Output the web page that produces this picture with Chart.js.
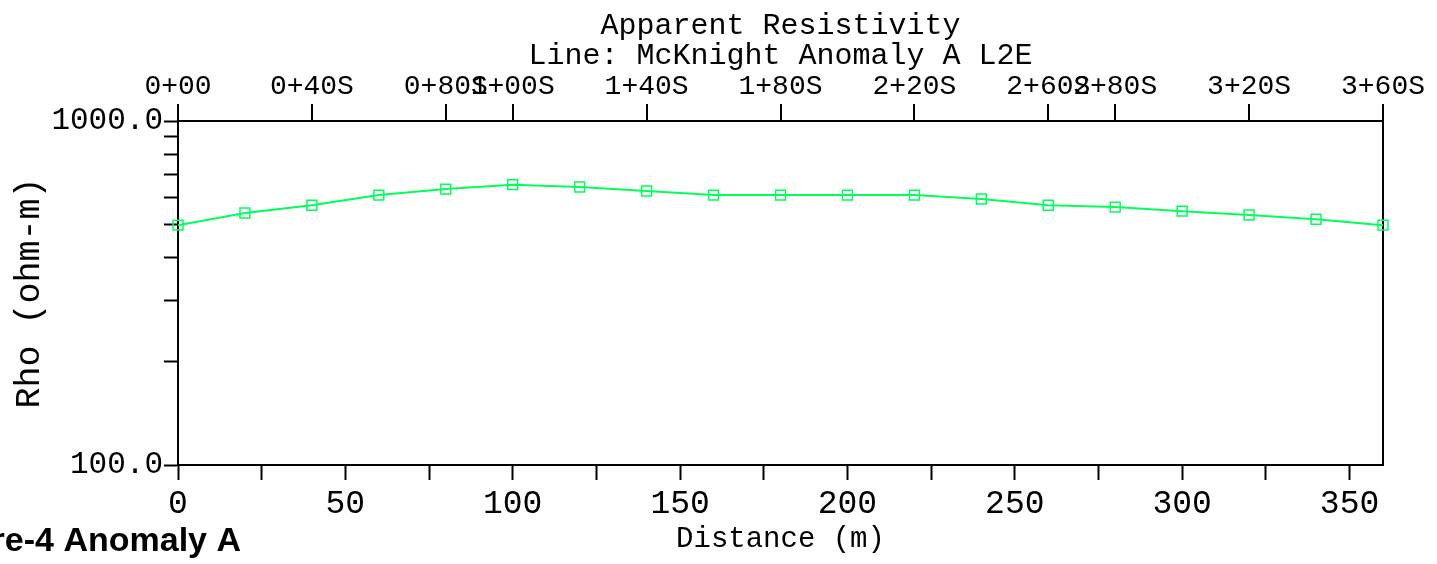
<!DOCTYPE html>
<html>
<head>
<meta charset="utf-8">
<script src="https://cdn.jsdelivr.net/npm/chart.js@4/dist/chart.umd.min.js"></script>
<style>
  html, body { margin: 0; padding: 0; background: #fff; }
  canvas { display: block; }
</style>
</head>
<body>
<canvas id="chart" width="1437" height="564"></canvas>
<script>
// Apparent resistivity along line L2E (distance in metres, rho in ohm-m)
const distance = [0, 20, 40, 60, 80, 100, 120, 140, 160, 180, 200, 220, 240, 260, 280, 300, 320, 340, 360];
const rho = [498, 540, 569, 609, 634, 653, 643, 626, 609, 609, 609, 609, 593, 569, 562, 547, 533, 518, 498];

// Station labels along the top axis
const stationTicks = [0, 40, 80, 100, 140, 180, 220, 260, 280, 320, 360];
const stationLabels = ['0+00', '0+40S', '0+80S', '1+00S', '1+40S', '1+80S', '2+20S', '2+60S', '2+80S', '3+20S', '3+60S'];

// Bottom axis ticks (labelled every 50 m) and log axis ticks
const distanceTicks = [0, 25, 50, 75, 100, 125, 150, 175, 200, 225, 250, 275, 300, 325, 350];
const distanceLabelStep = 50;
const rhoTicks = [100, 200, 300, 400, 500, 600, 700, 800, 900, 1000];
const rhoLabelled = { 100: '100.0', 1000: '1000.0' };

const MONO = '"Liberation Mono", "DejaVu Sans Mono", monospace';
const lineColor = 'rgb(0, 255, 90)';

Chart.defaults.color = '#000';

const setTicks = (values) => (scale) => {
  scale.ticks = values.map(v => ({ value: v }));
};

// Figure caption in the lower-left corner
const captionPlugin = {
  id: 'caption',
  afterDraw(chart) {
    const ctx = chart.ctx;
    ctx.save();
    ctx.font = 'bold 34px "Liberation Sans", Arial, sans-serif';
    ctx.fillStyle = '#000';
    ctx.textAlign = 'right';
    ctx.textBaseline = 'alphabetic';
    ctx.fillText('Figure-4 Anomaly A', 241, 551);
    ctx.restore();
  }
};

new Chart(document.getElementById('chart'), {
  type: 'line',
  data: {
    datasets: [{
      data: distance.map((d, i) => ({ x: d, y: rho[i] })),
      borderColor: lineColor,
      borderWidth: 2,
      backgroundColor: 'transparent',
      pointStyle: 'rect',
      pointRadius: 7,
      pointBorderWidth: 1.5,
      pointBorderColor: lineColor,
      pointBackgroundColor: 'transparent',
      tension: 0,
      fill: false,
      clip: false,
      xAxisID: 'x',
      yAxisID: 'y'
    }]
  },
  options: {
    responsive: false,
    animation: false,
    events: [],
    layout: { padding: { left: 0, right: 54, top: 0, bottom: 0 } },
    plugins: {
      legend: { display: false },
      tooltip: { enabled: false },
      title: {
        display: true,
        fullSize: false,
        text: ['Apparent Resistivity', 'Line: McKnight Anomaly A L2E'],
        color: '#000',
        font: { family: MONO, size: 30, weight: 'normal', lineHeight: 1.0 },
        padding: { top: 11, bottom: 0 }
      }
    },
    scales: {
      x: {
        type: 'linear',
        position: 'bottom',
        min: 0,
        max: 360,
        afterBuildTicks: setTicks(distanceTicks),
        afterFit: (s) => { s.height = 99; },
        border: { display: true, color: '#000', width: 2 },
        grid: { drawOnChartArea: false, tickLength: 15, tickColor: '#000', tickWidth: 2 },
        ticks: {
          autoSkip: false,
          maxRotation: 0,
          padding: 4,
          font: { family: MONO, size: 33 },
          callback: (v) => (v % distanceLabelStep === 0 ? String(v) : '')
        },
        title: {
          display: true,
          text: 'Distance (m)',
          font: { family: MONO, size: 29 },
          padding: { top: 0, bottom: 7 }
        }
      },
      x2: {
        type: 'linear',
        position: 'top',
        min: 0,
        max: 360,
        afterBuildTicks: setTicks(stationTicks),
        afterFit: (s) => { s.height = 50; },
        border: { display: true, color: '#000', width: 2 },
        grid: {
          drawOnChartArea: true,
          color: (c) => (c.tick && c.tick.value === 360 ? '#000' : 'rgba(0,0,0,0)'),
          lineWidth: 2,
          tickLength: 17,
          tickColor: '#000',
          tickWidth: 2
        },
        ticks: {
          autoSkip: false,
          maxRotation: 0,
          padding: 1,
          font: { family: MONO, size: 28 },
          callback: (v) => {
            const i = stationTicks.indexOf(v);
            return i >= 0 ? stationLabels[i] : '';
          }
        }
      },
      y: {
        type: 'logarithmic',
        position: 'left',
        min: 100,
        max: 1000,
        afterBuildTicks: setTicks(rhoTicks),
        afterFit: (s) => { s.width = 178; },
        border: { display: true, color: '#000', width: 2 },
        grid: { drawOnChartArea: false, tickLength: 14, tickColor: '#000', tickWidth: 2 },
        ticks: {
          autoSkip: false,
          padding: 1,
          font: { family: MONO, size: 31 },
          callback: (v) => rhoLabelled[v] || ''
        },
        title: {
          display: true,
          text: 'Rho (ohm-m)',
          font: { family: MONO, size: 35 },
          padding: { top: 9, bottom: 0 }
        }
      }
    }
  },
  plugins: [captionPlugin]
});
</script>
</body>
</html>
